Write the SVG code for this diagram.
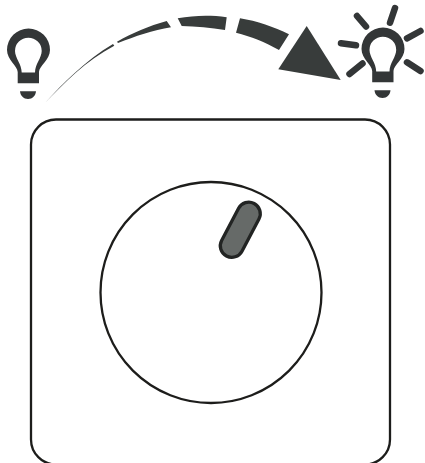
<svg xmlns="http://www.w3.org/2000/svg" width="425" height="463" viewBox="0 0 425 463">
<style>
.ln{fill:none;stroke:#1d1d1b;stroke-width:2.300}
.dk{fill:#383c3b}
.solid{fill:#333637}
.ray{fill:none;stroke:#333637;stroke-width:6.5;stroke-linecap:round}
</style>
<defs>
<g id="bulbShape">
<path class="solid" fill-rule="evenodd" d="M17.700 83.300V72C17.700 66 7 60 7 50A21.500 21.500 0 0 1 50 50C50 60 39 66 39 72V83.300ZM21.700 72.500H35C35 64 41.700 58 41.700 51A13.350 13.350 0 0 0 15 51C15 58 21.700 64 21.700 72.500Z"/>
<path class="solid" d="M20 91.300H36C35.500 96 32.500 99 28 99S20.500 96 20 91.300Z"/>
</g>
</defs>
<g id="bulb-off"><use href="#bulbShape"/></g>
<g id="bulb-on">
<use href="#bulbShape" x="354.500" y="-1"/>
<path class="ray" d="M357 16L366 26.500M390 22.700L395 8M407 38.300L420.500 31M341 43.300L356 45.300M349.500 74L362.500 63.500M407 62.300L420.500 71"/>
</g>
<g id="connectors">
<path class="dk" d="M45 103C62 84 86 60 113 44L114.300 45.700C86 60.500 63 84 45 103Z"/>
<path class="dk" d="M117 41.800C132 33 149 26 166.700 21L171 27.300C153 30 135 36.500 118 43Z"/>
<path class="dk" d="M177.700 18.300C194 15.500 210 15 226.700 17.300L225 30C211 27.500 196 26.500 181.700 26Z"/>
<path class="dk" d="M240 18.300C257 21 274 27 289 34.300L279 50C265 42 251 36.500 236 32.700Z"/>
<path class="dk" d="M306.700 26L340.700 80L278.300 69.300Z"/>
</g>
<g id="plate"><rect class="ln" x="31" y="119.500" width="359" height="345" rx="25"/></g>
<g id="dial"><circle class="ln" cx="211" cy="292.500" r="110.500"/></g>
<g id="knob"><rect x="228.800" y="200" width="23" height="59.400" rx="11.500" transform="rotate(27.800 240.300 229.700)" fill="#666a68" stroke="#222423" stroke-width="3.300"/></g>
</svg>
